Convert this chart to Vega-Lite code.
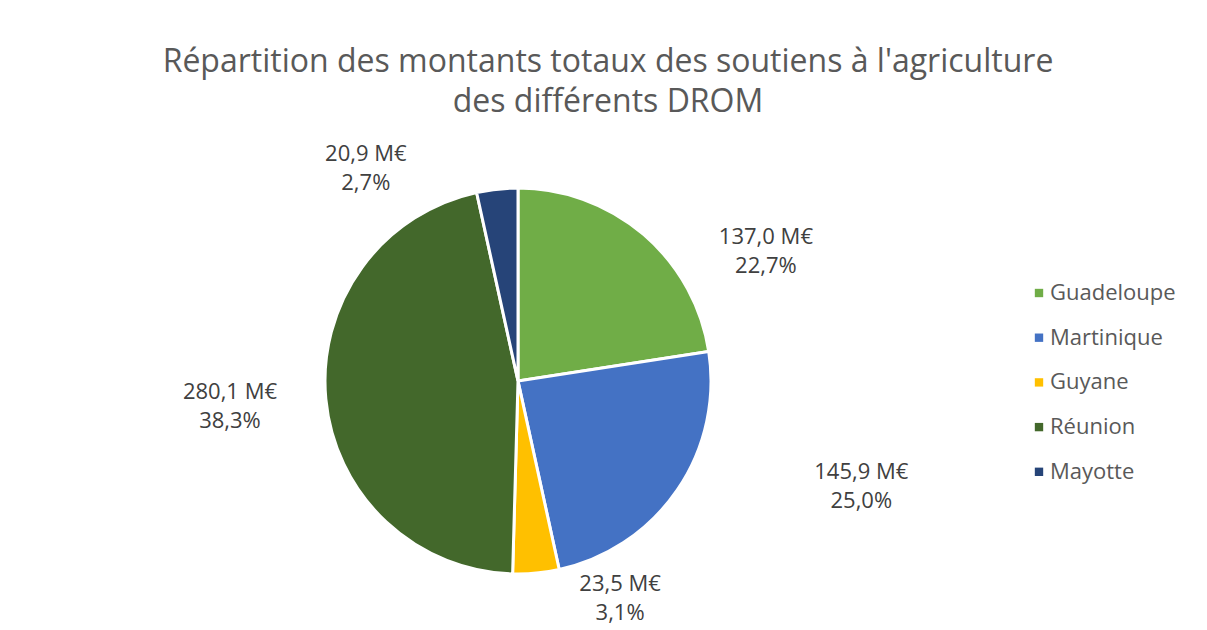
{
  "$schema": "https://vega.github.io/schema/vega-lite/v6.json",
  "width": 386,
  "height": 386,
  "autosize": {"type": "none"},
  "padding": {"left": 325, "top": 188, "right": 496, "bottom": 56},
  "background": "white",
  "title": {
    "text": ["Répartition des montants totaux des soutiens à l'agriculture", "des différents DROM"],
    "font": "Open Sans",
    "fontSize": 32,
    "fontWeight": "normal",
    "color": "#595959",
    "anchor": "middle",
    "dx": 90,
    "offset": 6,
    "lineHeight": 40
  },
  "data": {
    "values": [
      {"drom": "Guadeloupe", "rang": 1, "montant": 137.0, "part": 22.7, "etiquette": "137,0 M€\n22,7%"},
      {"drom": "Martinique", "rang": 2, "montant": 145.9, "part": 25.0, "etiquette": "145,9 M€\n25,0%"},
      {"drom": "Guyane", "rang": 3, "montant": 23.5, "part": 3.1, "etiquette": "23,5 M€\n3,1%"},
      {"drom": "Réunion", "rang": 4, "montant": 280.1, "part": 38.3, "etiquette": "280,1 M€\n38,3%"},
      {"drom": "Mayotte", "rang": 5, "montant": 20.9, "part": 2.7, "etiquette": "20,9 M€\n2,7%"}
    ]
  },
  "encoding": {
    "theta": {"field": "montant", "type": "quantitative", "stack": true},
    "order": {"field": "rang", "type": "quantitative"}
  },
  "layer": [
    {
      "mark": {"type": "arc", "stroke": "white", "strokeWidth": 3},
      "encoding": {
        "color": {
          "field": "drom",
          "type": "nominal",
          "scale": {
            "domain": ["Guadeloupe", "Martinique", "Guyane", "Réunion", "Mayotte"],
            "range": ["#70AD47", "#4472C4", "#FFC000", "#43682B", "#264478"]
          },
          "legend": {
            "title": null,
            "orient": "none",
            "legendX": 703,
            "legendY": 94,
            "padding": 0,
            "symbolType": "square",
            "symbolSize": 70,
            "symbolStrokeWidth": 0,
            "labelFont": "Open Sans",
            "labelFontSize": 22,
            "labelColor": "#595959",
            "labelOffset": 0,
            "rowPadding": 22.7
          }
        }
      }
    },
    {
      "mark": {"type": "text", "radius": 215, "dx": 108, "dy": 19, "font": "Open Sans", "fontSize": 22, "lineHeight": 29, "lineBreak": "\n", "align": "center", "baseline": "middle"},
      "encoding": {
        "detail": {"field": "drom", "type": "nominal"},
        "color": {"value": "#404040"},
        "text": {"condition": {"test": "datum.drom === 'Guadeloupe'", "field": "etiquette"}, "value": ""}
      }
    },
    {
      "mark": {"type": "text", "radius": 215, "dx": 166, "dy": -31, "font": "Open Sans", "fontSize": 22, "lineHeight": 29, "lineBreak": "\n", "align": "center", "baseline": "middle"},
      "encoding": {
        "detail": {"field": "drom", "type": "nominal"},
        "color": {"value": "#404040"},
        "text": {"condition": {"test": "datum.drom === 'Martinique'", "field": "etiquette"}, "value": ""}
      }
    },
    {
      "mark": {"type": "text", "radius": 215, "dx": 82, "dy": -11, "font": "Open Sans", "fontSize": 22, "lineHeight": 29, "lineBreak": "\n", "align": "center", "baseline": "middle"},
      "encoding": {
        "detail": {"field": "drom", "type": "nominal"},
        "color": {"value": "#404040"},
        "text": {"condition": {"test": "datum.drom === 'Guyane'", "field": "etiquette"}, "value": ""}
      }
    },
    {
      "mark": {"type": "text", "radius": 215, "dx": -74, "dy": -9, "font": "Open Sans", "fontSize": 22, "lineHeight": 29, "lineBreak": "\n", "align": "center", "baseline": "middle"},
      "encoding": {
        "detail": {"field": "drom", "type": "nominal"},
        "color": {"value": "#404040"},
        "text": {"condition": {"test": "datum.drom === 'Réunion'", "field": "etiquette"}, "value": ""}
      }
    },
    {
      "mark": {"type": "text", "radius": 215, "dx": -129, "dy": -13, "font": "Open Sans", "fontSize": 22, "lineHeight": 29, "lineBreak": "\n", "align": "center", "baseline": "middle"},
      "encoding": {
        "detail": {"field": "drom", "type": "nominal"},
        "color": {"value": "#404040"},
        "text": {"condition": {"test": "datum.drom === 'Mayotte'", "field": "etiquette"}, "value": ""}
      }
    }
  ],
  "config": {
    "view": {"stroke": null}
  }
}
